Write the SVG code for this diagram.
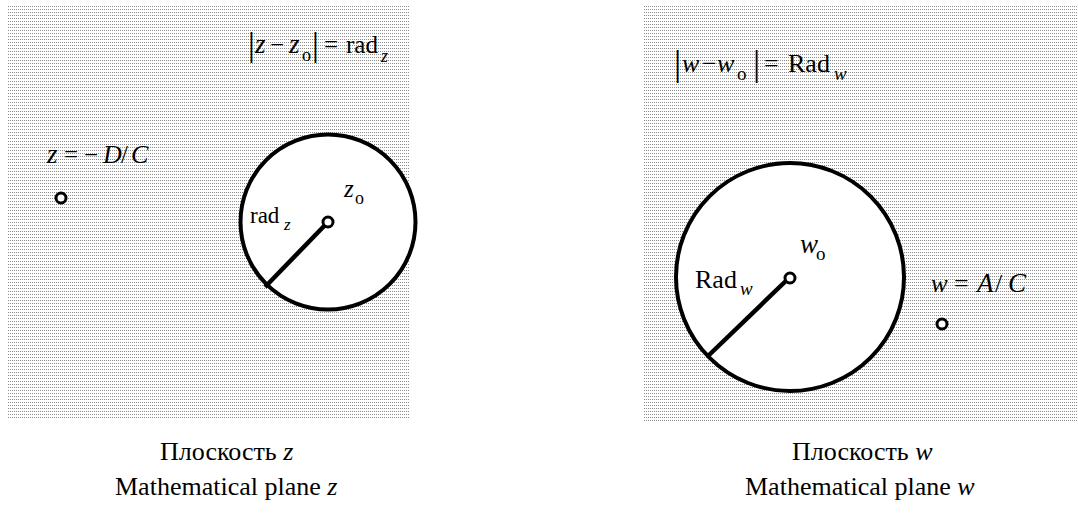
<svg xmlns="http://www.w3.org/2000/svg" width="1078" height="515" viewBox="0 0 1078 515">
  <defs>
    <pattern id="dots" x="0" y="0" width="2" height="3" patternUnits="userSpaceOnUse">
      <rect x="0" y="0" width="1" height="1" fill="#8a8a8a"/>
    </pattern>
  </defs>
  <style>
    text { font-family: "Liberation Serif", "Times New Roman", serif; fill: #000; }
    .i { font-style: italic; }
    .panel { fill: url(#dots); stroke: none; }
    .disk { fill: #fff; stroke: #000; stroke-width: 4; }
    .pt { fill: #fff; stroke: #000; stroke-width: 3; }
    .rad { stroke: #000; stroke-width: 4.5; fill: none; }
  </style>

  <g id="panel-z">
    <rect class="panel" x="8" y="6" width="401" height="413"/>
  </g>
  <g id="panel-w">
    <rect class="panel" x="643" y="5" width="435" height="416"/>
  </g>

  <g id="circle-z">
    <circle class="disk" cx="328" cy="222" r="87.5"/>
  </g>
  <g id="circle-w">
    <circle class="disk" cx="790" cy="277" r="114"/>
  </g>

  <g id="connectors">
    <line class="rad" x1="328" y1="222" x2="265" y2="287"/>
    <line class="rad" x1="790" y1="277" x2="707" y2="357"/>
  </g>

  <g id="center-z">
    <circle class="pt" cx="328" cy="222" r="5"/>
  </g>
  <g id="center-w">
    <circle class="pt" cx="790" cy="278" r="5"/>
  </g>
  <g id="pole-z">
    <circle class="pt" cx="61" cy="198" r="5"/>
  </g>
  <g id="pole-w">
    <circle class="pt" cx="942" cy="324" r="5"/>
  </g>

  <g id="eq-z" font-size="25">
    <text x="248" y="56" font-size="34">|</text>
    <text x="255" y="53" class="i" font-size="27">z</text>
    <text x="270" y="53">−</text>
    <text x="289" y="53" class="i" font-size="27">z</text>
    <text x="302" y="61" font-size="18">o</text>
    <text x="312" y="56" font-size="34">|</text>
    <text x="324" y="53">=</text>
    <text x="346" y="53">rad</text>
    <text x="381" y="62" font-size="18" class="i">z</text>
  </g>

  <g id="label-pole-z" font-size="25">
    <text x="47" y="163" class="i" font-size="27">z</text>
    <text x="64" y="163">=</text>
    <text x="84" y="163">−</text>
    <text x="103" y="163" class="i" font-size="26">D</text>
    <text x="121" y="163">/</text>
    <text x="131" y="163" class="i" font-size="26">C</text>
  </g>

  <g id="label-rad-z">
    <text x="250" y="223" font-size="23">rad</text>
    <text x="284" y="230" font-size="17" class="i">z</text>
  </g>
  <g id="label-z0">
    <text x="344" y="197" font-size="25" class="i">z</text>
    <text x="355" y="204" font-size="18">o</text>
  </g>

  <g id="eq-w" font-size="26">
    <text x="674" y="75" font-size="36">|</text>
    <text x="682" y="72" class="i" font-size="26">w</text>
    <text x="702" y="72">−</text>
    <text x="717" y="72" class="i" font-size="26">w</text>
    <text x="737" y="80" font-size="19">o</text>
    <text x="753" y="75" font-size="36">|</text>
    <text x="764" y="72">=</text>
    <text x="788" y="72">Rad</text>
    <text x="834" y="80" font-size="19" class="i">w</text>
  </g>

  <g id="label-rad-w">
    <text x="695" y="288" font-size="26">Rad</text>
    <text x="740" y="295" font-size="19" class="i">w</text>
  </g>
  <g id="label-w0">
    <text x="800" y="253" font-size="27" class="i">w</text>
    <text x="816" y="260" font-size="19">o</text>
  </g>
  <g id="label-pole-w" font-size="26">
    <text x="931" y="292" class="i" font-size="25">w</text>
    <text x="954" y="292">=</text>
    <text x="977" y="292" class="i" font-size="27">A</text>
    <text x="995" y="292">/</text>
    <text x="1008" y="292" class="i" font-size="27">C</text>
  </g>

  <g id="caption-z" font-size="26">
    <text x="160" y="460">Плоскость <tspan class="i">z</tspan></text>
    <text x="115" y="495">Mathematical plane <tspan class="i">z</tspan></text>
  </g>
  <g id="caption-w" font-size="26">
    <text x="792" y="460">Плоскость <tspan class="i">w</tspan></text>
    <text x="745" y="495">Mathematical plane <tspan class="i">w</tspan></text>
  </g>
</svg>
